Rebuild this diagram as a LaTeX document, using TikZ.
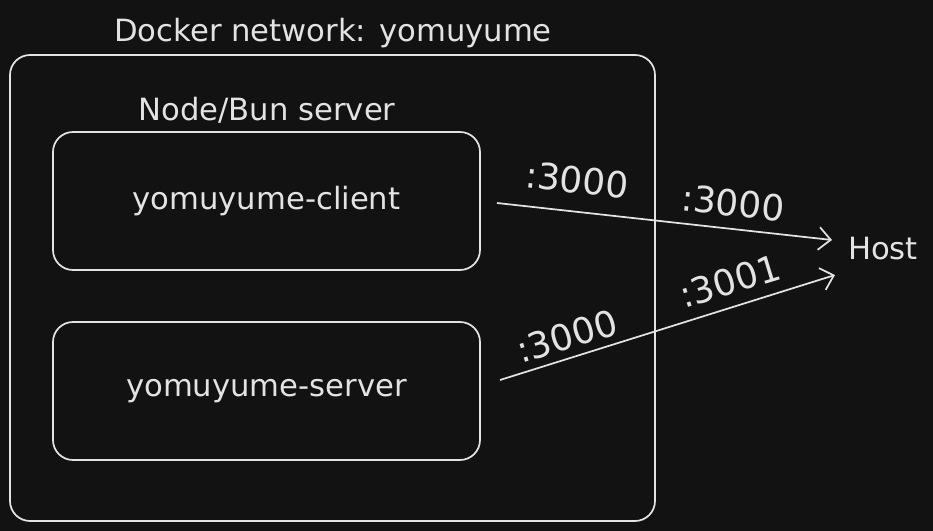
\documentclass[tikz,border=0pt]{standalone}
\usepackage{fontspec}
\setmainfont{DejaVu Sans}
\usetikzlibrary{arrows.meta}
\definecolor{bg}{HTML}{121212}
\definecolor{ink}{HTML}{E3E3E3}
\begin{document}
\begin{tikzpicture}[x=0.75pt,y=-0.75pt,
  every node/.style={text=ink,font=\fontsize{23}{27}\selectfont},
  box/.style={draw=ink,line width=1.3pt,rounded corners=15pt},
  link/.style={draw=ink,line width=1.3pt,-{Straight Barb[length=9pt,width=17pt,line width=1.3pt]}},
  lbl/.style={inner sep=0pt},
  port/.style={inner sep=0pt,font=\fontsize{27}{30}\selectfont}]
\fill[bg] (0,0) rectangle (933,531);
\useasboundingbox (0,0) rectangle (933,531);
% outer network box
\draw[box] (10,55) rectangle (655,521);
\node[lbl] (title) at (333,33) {Docker network: yomuyume};
\node[lbl] (nodebun) at (267,110) {Node/Bun server};
% containers
\node[box,minimum width=427*0.75pt,minimum height=138*0.75pt] (client) at (266.5,201) {yomuyume-client};
\node[box,minimum width=427*0.75pt,minimum height=138*0.75pt] (server) at (266.5,391) {yomuyume-server};
\node[lbl] (host) at (883,249) {Host};
% connector ends
\coordinate (c1) at (497,203);
\coordinate (h1) at (832,240);
\coordinate (c2) at (500,380);
\coordinate (h2) at (835,275);
\draw[link] (c1) -- (h1);
\draw[link] (c2) -- (h2);
% port labels
\node[port,rotate=-6] (p1) at (577,180) {:3000};
\node[port,rotate=-6] (p2) at (733,203) {:3000};
\node[port,rotate=17] (p3) at (567,336) {:3000};
\node[port,rotate=17] (p4) at (730,281) {:3001};
\end{tikzpicture}
\end{document}
